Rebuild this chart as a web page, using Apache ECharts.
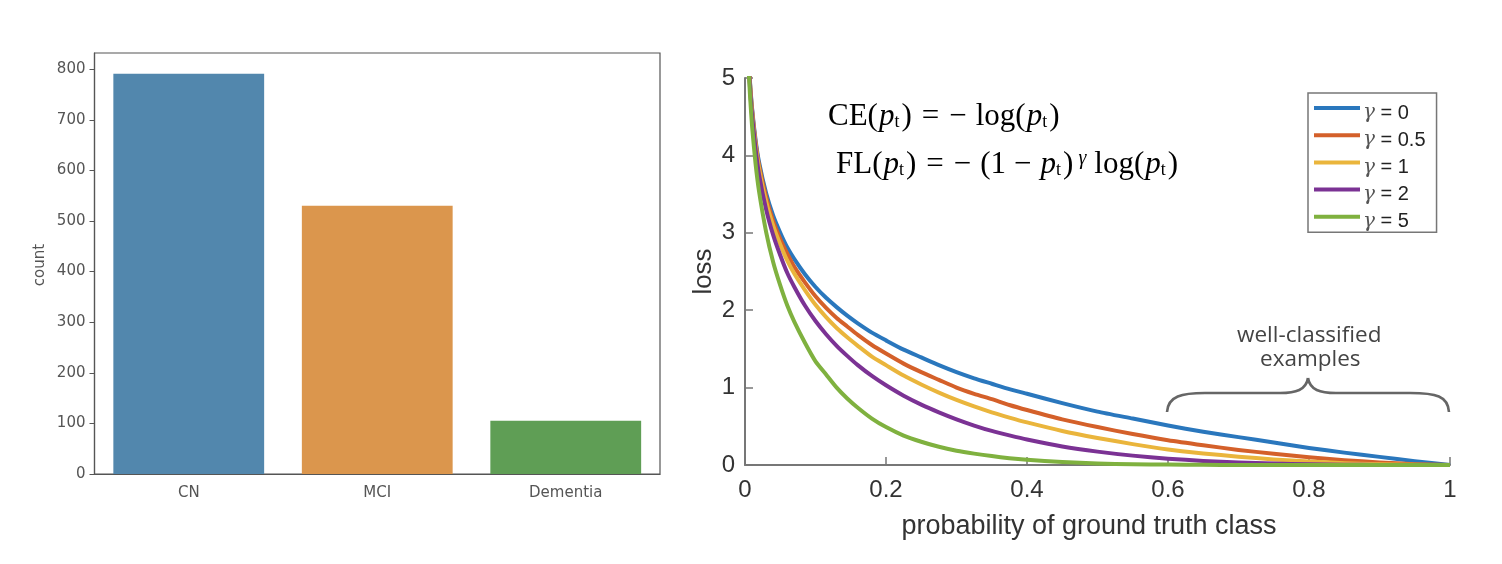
<!DOCTYPE html>
<html><head><meta charset="utf-8">
<style>html,body{margin:0;padding:0;background:#fff}#c{width:1502px;height:564px}</style>
<script src="https://cdn.jsdelivr.net/npm/echarts@6/dist/echarts.min.js"></script>
</head><body><div id="c"></div>
<script>
const barCategories = ['CN','MCI','Dementia'];
const barValues = [791,530,105];
const barColors = ['#5287ad','#db964d','#5f9e55'];
const countTicks = [0,100,200,300,400,500,600,700,800];

const probability = [0.0055,0.007,0.01,0.015,0.02,0.03,0.04,0.05,0.06,0.07,0.085,0.1,0.115,0.13,0.145,0.16,0.18,0.2,0.225,0.25,0.275,0.3,0.325,0.35,0.375,0.4,0.45,0.5,0.55,0.6,0.65,0.7,0.75,0.8,0.85,0.9,0.95,1];
const gamma0  = [5.20,4.96,4.61,4.20,3.91,3.51,3.22,3.00,2.81,2.66,2.465,2.30,2.16,2.04,1.93,1.83,1.71,1.61,1.49,1.39,1.29,1.20,1.12,1.05,0.98,0.92,0.80,0.69,0.60,0.51,0.43,0.36,0.29,0.22,0.16,0.105,0.05,0];
const gamma05 = [5.19,4.94,4.59,4.17,3.87,3.46,3.15,2.92,2.73,2.56,2.36,2.18,2.03,1.90,1.79,1.68,1.55,1.44,1.31,1.20,1.10,1.00,0.92,0.85,0.775,0.71,0.59,0.49,0.40,0.32,0.255,0.195,0.145,0.10,0.063,0.033,0.011,0];
const gamma1  = [5.17,4.93,4.56,4.14,3.83,3.40,3.09,2.85,2.64,2.47,2.26,2.07,1.91,1.77,1.65,1.54,1.40,1.29,1.155,1.04,0.935,0.84,0.756,0.68,0.6125,0.55,0.44,0.35,0.27,0.20,0.15,0.108,0.072,0.045,0.024,0.0105,0.0025,0];
const gamma2  = [5.14,4.89,4.52,4.08,3.75,3.30,2.97,2.71,2.48,2.30,2.06,1.86,1.69,1.54,1.41,1.29,1.15,1.03,0.895,0.78,0.68,0.59,0.51,0.44,0.383,0.33,0.24,0.173,0.121,0.082,0.053,0.032,0.018,0.009,0.0037,0.001,0.0001,0];
const gamma5  = [5.06,4.79,4.38,3.89,3.53,3.01,2.62,2.32,2.06,1.85,1.58,1.34,1.17,1.00,0.86,0.74,0.60,0.49,0.38,0.30,0.235,0.185,0.147,0.115,0.088,0.068,0.038,0.020,0.010,0.005,0.002,0.0009,0.0003,0,0,0,0,0];
const gammaNames = ['γ = 0','γ = 0.5','γ = 1','γ = 2','γ = 5'];
const gammaColors = ['#2a77bd','#d4602a','#eab53c','#7b3294','#7fb13f'];
const gammaSeries = [gamma0,gamma05,gamma1,gamma2,gamma5];

const chart = echarts.init(document.getElementById('c'),null,{renderer:'canvas'});
const SERIF = '"Liberation Serif"';
const base = {fontFamily:SERIF,fontSize:31,color:'#1a1a1a'};
const eq = {
  r:{...base},
  e:{...base,padding:[0,10,0,10]},
  n:{...base,padding:[0,9,0,0]},
  o:{...base,padding:[0,8,0,8]},
  i:{...base,fontStyle:'italic',padding:[0,0,0,1]},
  s:{...base,fontSize:18,padding:[12,2,0,0],verticalAlign:'top'},
  u:{...base,fontSize:20,fontStyle:'italic',verticalAlign:'bottom',padding:[0,8,12,5]}
};
const brace = {stroke:'#666',lineWidth:2.6,fill:'none'};
const option = {
  animation:false,
  backgroundColor:'#fff',
  grid:[
    {left:94.5,top:53,width:565.5,height:421,show:true,borderColor:'#555',borderWidth:1.2,backgroundColor:'#fff'},
    {left:745,top:78,width:705,height:387,show:false}
  ],
  xAxis:[
    {type:'category',gridIndex:0,data:barCategories,
     axisLine:{lineStyle:{color:'#555',width:1.2}},
     axisTick:{alignWithLabel:true,length:5,lineStyle:{color:'#555'}},
     axisLabel:{fontFamily:'DejaVu Sans',fontSize:15,color:'#555',margin:12}},
    {type:'value',gridIndex:1,min:0,max:1,interval:0.2,
     axisLine:{lineStyle:{color:'#777',width:2}},
     axisTick:{inside:true,length:8,lineStyle:{color:'#777',width:1.5}},
     splitLine:{show:false},
     axisLabel:{fontFamily:'Liberation Sans',fontSize:24,color:'#333',margin:13},
     name:'probability of ground truth class',nameLocation:'middle',nameGap:48,
     nameTextStyle:{fontFamily:'Liberation Sans',fontSize:27,color:'#333',padding:[0,17,0,0]}}
  ],
  yAxis:[
    {type:'value',gridIndex:0,min:0,max:832,
     axisLine:{show:true,lineStyle:{color:'#555',width:1.2}},
     axisTick:{show:true,length:5,customValues:countTicks,lineStyle:{color:'#555'}},
     splitLine:{show:false},
     axisLabel:{fontFamily:'DejaVu Sans',fontSize:15,color:'#555',margin:9,customValues:countTicks},
     name:'count',nameLocation:'middle',nameGap:47,
     nameTextStyle:{fontFamily:'DejaVu Sans',fontSize:15,color:'#555',padding:[0,3,0,0]}},
    {type:'value',gridIndex:1,min:0,max:5,interval:1,
     axisLine:{show:true,lineStyle:{color:'#777',width:2}},
     axisTick:{show:true,inside:true,length:8,lineStyle:{color:'#777',width:1.5}},
     splitLine:{show:false},
     axisLabel:{fontFamily:'Liberation Sans',fontSize:24,color:'#333',margin:10},
     name:'loss',nameLocation:'middle',nameGap:28,
     nameTextStyle:{fontFamily:'Liberation Sans',fontSize:26,color:'#333'}}
  ],
  legend:{
    left:1308,top:93,orient:'vertical',
    data:gammaNames,
    itemWidth:46,itemHeight:4,itemGap:-1.3,
    padding:[1.5,11,0.5,6],
    borderColor:'#777',borderWidth:1.5,
    selectedMode:false,
    icon:'rect',
    formatter:n=>'{g|γ}'+n.slice(1),
    textStyle:{fontFamily:'Liberation Sans',fontSize:20,color:'#222',lineHeight:17,padding:[10,0,0,-2],
      rich:{g:{fontFamily:'DejaVu Serif',fontStyle:'italic',fontSize:20,color:'#555'}}}
  },
  series:[
    {type:'bar',xAxisIndex:0,yAxisIndex:0,barWidth:'80%',
     data:barValues.map((v,i)=>({value:v,itemStyle:{color:barColors[i]}}))},
    ...gammaSeries.map((vals,i)=>({
      type:'line',name:gammaNames[i],xAxisIndex:1,yAxisIndex:1,
      data:probability.map((p,j)=>[p,vals[j]]),
      showSymbol:false,smooth:0.2,clip:true,
      lineStyle:{color:gammaColors[i],width:4,join:'round'},
      itemStyle:{color:gammaColors[i]},z:3+i
    }))
  ],
  graphic:[
    {type:'text',x:828,y:101,style:{
      text:'{r|CE(}{i|p}{s|t}{r|)}{e|=}{n|−}{r|log(}{i|p}{s|t}{r|)}',rich:eq}},
    {type:'text',x:836,y:149,style:{
      text:'{r|FL(}{i|p}{s|t}{r|)}{e|=}{n|−}{r|(1}{o|−}{i|p}{s|t}{r|)}{u|γ}{r|log(}{i|p}{s|t}{r|)}',rich:eq}},
    {type:'text',x:1237,y:324,style:{
      text:'well-classified',fontFamily:'Open Sans',fontSize:22.5,fill:'#444'}},
    {type:'text',x:1260,y:348,style:{
      text:'examples',fontFamily:'Open Sans',fontSize:22.5,fill:'#444'}},
    {type:'bezierCurve',shape:{x1:1167,y1:412,cpx1:1168,cpy1:396,cpx2:1182,cpy2:393,x2:1205,y2:393},style:brace},
    {type:'line',shape:{x1:1205,y1:393,x2:1280,y2:393},style:brace},
    {type:'bezierCurve',shape:{x1:1280,y1:393,cpx1:1296,cpy1:393,cpx2:1306,cpy2:390,x2:1308,y2:378},style:brace},
    {type:'bezierCurve',shape:{x1:1308,y1:378,cpx1:1310,cpy1:390,cpx2:1320,cpy2:393,x2:1336,y2:393},style:brace},
    {type:'line',shape:{x1:1336,y1:393,x2:1410,y2:393},style:brace},
    {type:'bezierCurve',shape:{x1:1410,y1:393,cpx1:1436,cpy1:393,cpx2:1448,cpy2:396,x2:1449,y2:412},style:brace}
  ]
};
chart.setOption(option);
</script></body></html>
